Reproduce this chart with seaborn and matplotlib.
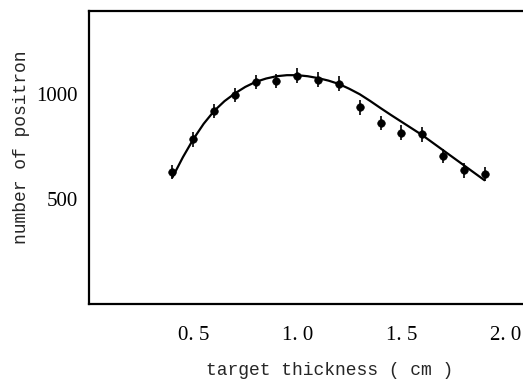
import seaborn as sns
import matplotlib.pyplot as plt
import pandas as pd
import numpy as np

# measured points
thickness = [0.4, 0.5, 0.6, 0.7, 0.8, 0.9, 1.0, 1.1, 1.2, 1.3, 1.4, 1.5, 1.6, 1.7, 1.8, 1.9]
positrons = [630, 786, 921, 997, 1060, 1065, 1089, 1070, 1052, 938, 864, 818, 809, 705, 638, 619]
errors = [35, 35, 35, 35, 35, 35, 35, 35, 35, 35, 35, 35, 35, 35, 35, 35]

# fitted curve
fit_x = [0.40, 0.45, 0.50, 0.55, 0.60, 0.65, 0.70, 0.75, 0.80, 0.85, 0.90, 0.95, 1.00,
         1.05, 1.10, 1.15, 1.20, 1.25, 1.30, 1.35, 1.40, 1.45, 1.50, 1.55, 1.60, 1.65,
         1.70, 1.75, 1.80, 1.85, 1.90]
fit_y = [604, 700, 786, 860, 921, 968, 1005, 1036, 1060, 1076, 1087, 1092, 1092,
         1087, 1078, 1066, 1050, 1027, 1001, 969, 935, 902, 870, 838, 806, 770,
         734, 698, 662, 626, 590]

xticks = [0.5, 1.0, 1.5, 2.0]
xtick_labels = ["0. 5", "1. 0", "1. 5", "2. 0"]
yticks = [500, 1000]
ytick_labels = ["500", "1000"]

df = pd.DataFrame({"x": thickness, "y": positrons, "err": errors})
fit = pd.DataFrame({"x": fit_x, "y": fit_y})

sns.set_style("white")
fig = plt.figure(figsize=(5.23, 3.83), dpi=100)
ax = fig.add_axes([0.1707, 0.207, 0.8293, 0.765])

sns.lineplot(data=fit, x="x", y="y", color="black", linewidth=1.6, ax=ax)
ax.errorbar(df["x"], df["y"], yerr=df["err"], fmt="none", ecolor="black", elinewidth=1.2, capsize=0)
sns.scatterplot(data=df, x="x", y="y", color="black", s=30, edgecolor="black", ax=ax, zorder=3)

ax.set_xlim(0, 2.085)
ax.set_ylim(0, 1400)
ax.set_xticks(xticks)
ax.set_xticklabels(xtick_labels, family="Liberation Serif", fontsize=15)
ax.set_yticks(yticks)
ax.set_yticklabels(ytick_labels, family="Liberation Serif", fontsize=15)
ax.tick_params(direction="in", length=6, width=1.3, colors="black")
ax.tick_params(axis="y", pad=8)
ax.tick_params(axis="x", pad=16)

for side in ["left", "bottom", "top"]:
    ax.spines[side].set_linewidth(1.6)
    ax.spines[side].set_color("black")
ax.spines["right"].set_visible(False)

ax.set_xlabel("target thickness ( cm )", family="Liberation Mono", fontsize=13)
ax.set_ylabel("number of positron", family="Liberation Mono", fontsize=13)
ax.xaxis.set_label_coords(0.553, -0.2)
ax.yaxis.set_label_coords(-0.137, 0.535)

plt.savefig("out.png", dpi=100)
